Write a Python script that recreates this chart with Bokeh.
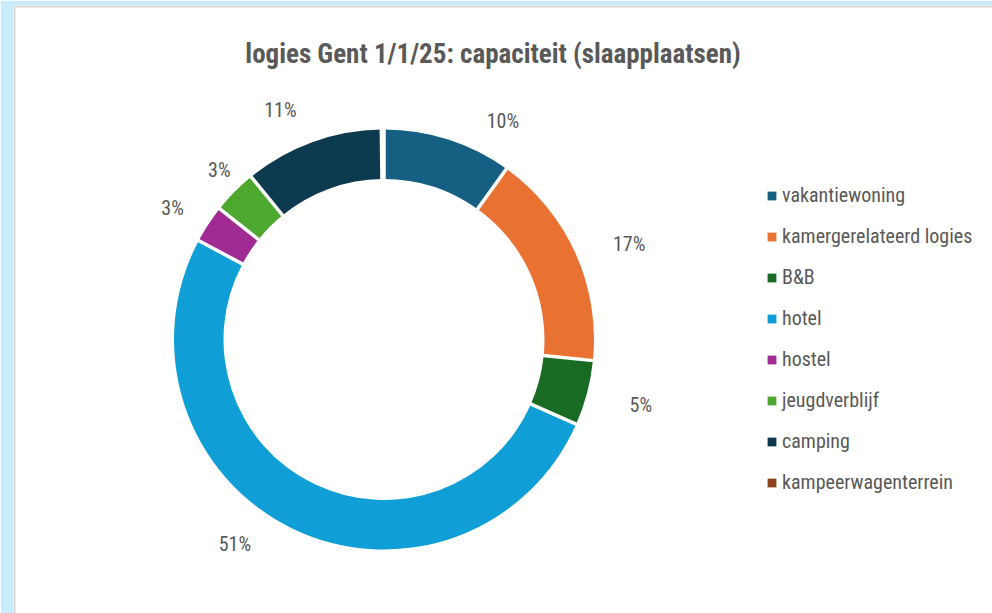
import numpy as np
from bokeh.plotting import figure
from bokeh.models import ColumnDataSource, Range1d, Span
from bokeh.core.properties import value
from bokeh.embed import file_html
from bokeh.resources import INLINE

# ---------------- data ----------------
title_text = "logies Gent 1/1/25: capaciteit (slaapplaatsen)"
categories = ["vakantiewoning", "kamergerelateerd logies", "B&B", "hotel",
              "hostel", "jeugdverblijf", "camping", "kampeerwagenterrein"]
shares = [9.9, 16.7, 5.0, 51.2, 2.9, 3.4, 10.7, 0.2]   # % of sleeping places
colors = ["#156082", "#e97132", "#196b24", "#0f9ed5",
          "#a02b93", "#4ea72e", "#0e3a4f", "#8c441e"]

# ---------------- style / layout ----------------
FONT = "Roboto Condensed"
TEXT = "#595959"
BG = "#c8ecfb"
EDGE = "#d6d6d6"
R_OUT, R_IN = 210, 160.5
label_radius = [249, 263, 265, 253, 249, 236, 252, 252]
label_nudge_deg = [10.7, 3.1, -0.5, 10.2, -1.4, 1.1, -4.3, 0.0]

frac = np.array(shares) / np.sum(shares)
cum_end = np.cumsum(frac)
cum_start = cum_end - frac
start_ang = np.pi / 2 - 2 * np.pi * cum_end
end_ang = np.pi / 2 - 2 * np.pi * cum_start
mid_deg = 360 * (cum_start + cum_end) / 2

src = ColumnDataSource(dict(cat=categories, start=start_ang, end=end_ang, color=colors))

p = figure(width=992, height=613, output_backend="svg", toolbar_location=None,
           x_range=Range1d(-370.5, 608.5), y_range=Range1d(-274, 334),
           min_border_left=13, min_border_right=0, min_border_top=5, min_border_bottom=0)
p.axis.visible = False
p.grid.visible = False
p.background_fill_color = "white"
p.border_fill_color = BG
p.outline_line_color = None
p.add_layout(Span(location=333, dimension="width", line_color=EDGE, line_width=2))
p.add_layout(Span(location=-369.5, dimension="height", line_color=EDGE, line_width=2))

p.annular_wedge(x=0, y=0, inner_radius=R_IN, outer_radius=R_OUT,
                start_angle="start", end_angle="end", fill_color="color",
                line_color=None, source=src, legend_field="cat")

# white separators between slices
b = 2 * np.pi * cum_start
p.segment(x0=(R_IN - 3) * np.cos(np.pi / 2 - b), y0=(R_IN - 3) * np.sin(np.pi / 2 - b),
          x1=(R_OUT + 3) * np.cos(np.pi / 2 - b), y1=(R_OUT + 3) * np.sin(np.pi / 2 - b),
          line_color="white", line_width=3.5)

# percentage labels
lx, ly, lt = [], [], []
for s, m, r, n in zip(shares, mid_deg, label_radius, label_nudge_deg):
    if s < 0.5:
        continue
    a = np.radians(m + n)
    lx.append(r * np.sin(a))
    ly.append(r * np.cos(a))
    lt.append(f"{round(s)}%")
p.text(x=lx, y=ly, text=lt, text_font=value(FONT), text_font_size="20px",
       text_color=TEXT, text_align="center", text_baseline="middle")

# title
p.text(x=[109], y=[286], text=[title_text], text_font=value(FONT),
       text_font_size="27px", text_font_style="bold", text_color=TEXT,
       text_align="center", text_baseline="alphabetic")

lg = p.legend[0]
lg.location = (753, 119)
lg.border_line_color = None
lg.background_fill_alpha = 0
lg.padding = 0
lg.margin = 0
lg.spacing = 17
lg.glyph_width = 11
lg.glyph_height = 11
lg.label_standoff = 5
lg.label_text_font = FONT
lg.label_text_font_size = "20px"
lg.label_text_color = TEXT

open("out.html", "w").write(file_html(p, INLINE))
